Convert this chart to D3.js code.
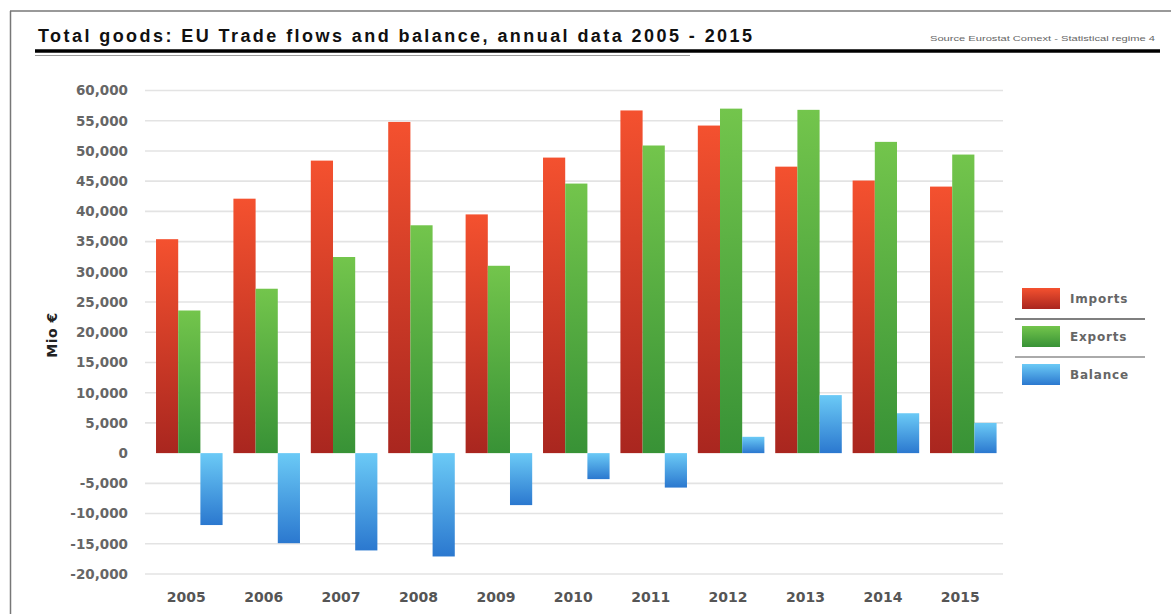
<!DOCTYPE html>
<html>
<head>
<meta charset="utf-8">
<script src="https://cdn.jsdelivr.net/npm/d3@7"></script>
<style>
  body { margin: 0; background: #fff; }
  #chart-container svg { display: block; }
</style>
</head>
<body>
<div id="chart-container"></div>
<script>
/**************************************************
 * Data (Mio €)
 **************************************************/

const years = ["2005", "2006", "2007", "2008", "2009", "2010", "2011", "2012", "2013", "2014", "2015"];
const imports = [35400, 42100, 48400, 54800, 39500, 48900, 56700, 54200, 47400, 45100, 44100];
const exports = [23600, 27200, 32450, 37700, 31000, 44600, 50900, 57000, 56800, 51500, 49400];
const balance = [-11900, -14900, -16100, -17100, -8600, -4300, -5700, 2700, 9600, 6600, 5000];
const seriesNames = ["Imports", "Exports", "Balance"];
const yTicks = [-20000, -15000, -10000, -5000, 0, 5000, 10000, 15000, 20000, 25000, 30000, 35000, 40000, 45000, 50000, 55000, 60000];

/**************************************************
 * Rendering
 **************************************************/

const width = 1171, height = 614;

const svg = d3.select("#chart-container")
  .append("svg")
  .attr("width", width)
  .attr("height", height);

// gradients for the bars (light on top, dark at bottom)
const gradColors = {
  Imports: ["#f4512f", "#a9261f"],
  Exports: ["#73c54c", "#389236"],
  Balance: ["#6bcaf6", "#2b78cf"]
};
const defs = svg.append("defs");
seriesNames.forEach(name => {
  const g = defs.append("linearGradient")
    .attr("id", "grad-" + name)
    .attr("x1", 0).attr("y1", 0).attr("x2", 0).attr("y2", 1);
  g.append("stop").attr("offset", "0%").attr("stop-color", gradColors[name][0]);
  g.append("stop").attr("offset", "100%").attr("stop-color", gradColors[name][1]);
});

// frame
svg.append("line")
  .attr("x1", 10).attr("x2", width).attr("y1", 11).attr("y2", 11)
  .attr("stroke", "#777").attr("stroke-width", 1.5);
svg.append("line")
  .attr("x1", 10.5).attr("x2", 10.5).attr("y1", 11).attr("y2", height)
  .attr("stroke", "#777").attr("stroke-width", 1.5);

// title + source
svg.append("text")
  .attr("x", 38)
  .attr("y", 42)
  .attr("font-family", "Liberation Sans, Arial, sans-serif")
  .attr("font-size", "18px")
  .attr("font-weight", "bold")
  .attr("fill", "#111")
  .attr("textLength", 714)
  .attr("lengthAdjust", "spacing")
  .text("Total goods: EU Trade flows and balance, annual data 2005 - 2015");

svg.append("text")
  .attr("x", 930)
  .attr("y", 41)
  .attr("font-family", "Liberation Sans, Arial, sans-serif")
  .attr("font-size", "8px")
  .attr("fill", "#666")
  .attr("textLength", 225)
  .attr("lengthAdjust", "spacingAndGlyphs")
  .text("Source Eurostat Comext - Statistical regime 4");

svg.append("line")
  .attr("x1", 35).attr("x2", 1160).attr("y1", 51).attr("y2", 51)
  .attr("stroke", "#000").attr("stroke-width", 3.5);
svg.append("line")
  .attr("x1", 35).attr("x2", 690).attr("y1", 55.5).attr("y2", 55.5)
  .attr("stroke", "#999").attr("stroke-width", 1);

// scales
const x0 = d3.scaleBand()
  .domain(years)
  .range([150.6, 1002])
  .paddingInner(0.14)
  .paddingOuter(0.07);

const x1 = d3.scaleBand()
  .domain(seriesNames)
  .range([0, x0.bandwidth()]);

const y = d3.scaleLinear()
  .domain([-20000, 60000])
  .range([574, 90.5]);

// grid lines
svg.append("g")
  .attr("class", "grid")
  .selectAll("line")
  .data(yTicks.filter(d => d !== 0))
  .enter()
  .append("line")
  .attr("x1", 145)
  .attr("x2", 1003)
  .attr("y1", d => y(d))
  .attr("y2", d => y(d))
  .attr("stroke", "#e3e3e3")
  .attr("stroke-width", 1.6);

// y axis (plain hyphen for negatives, as in the original)
const locale = d3.formatLocale({ decimal: ".", thousands: ",", grouping: [3], currency: ["", "€"], minus: "-" });
const yAxis = d3.axisLeft(y)
  .tickValues(yTicks)
  .tickFormat(locale.format(","))
  .tickSize(0)
  .tickPadding(0);

const yAxisG = svg.append("g")
  .attr("class", "y-axis")
  .attr("transform", "translate(128,0)")
  .call(yAxis);
yAxisG.select(".domain").remove();
yAxisG.selectAll("text")
  .attr("font-family", "DejaVu Sans, sans-serif")
  .attr("font-size", "13.5px")
  .attr("font-weight", "bold")
  .attr("fill", "#666");

// x axis
const xAxis = d3.axisBottom(x0).tickSize(0).tickPadding(0);
const xAxisG = svg.append("g")
  .attr("class", "x-axis")
  .attr("transform", "translate(-3,592)")
  .call(xAxis);
xAxisG.select(".domain").remove();
xAxisG.selectAll("text")
  .attr("font-family", "DejaVu Sans, sans-serif")
  .attr("font-size", "14px")
  .attr("font-weight", "bold")
  .attr("fill", "#555");

// axis title
svg.append("text")
  .attr("transform", "translate(57,335) rotate(-90)")
  .attr("text-anchor", "middle")
  .attr("font-family", "DejaVu Sans, sans-serif")
  .attr("font-size", "14px")
  .attr("font-weight", "bold")
  .attr("letter-spacing", "0.5px")
  .attr("fill", "#222")
  .text("Mio €");

// bars
const rows = years.map((yr, i) => ({
  year: yr,
  values: [
    { key: "Imports", value: imports[i] },
    { key: "Exports", value: exports[i] },
    { key: "Balance", value: balance[i] }
  ]
}));

const groups = svg.selectAll("g.year-group")
  .data(rows)
  .enter()
  .append("g")
  .attr("class", "year-group")
  .attr("transform", d => `translate(${x0(d.year)},0)`);

groups.selectAll("rect")
  .data(d => d.values)
  .enter()
  .append("rect")
  .attr("x", d => x1(d.key))
  .attr("y", d => y(Math.max(0, d.value)))
  .attr("width", x1.bandwidth())
  .attr("height", d => Math.abs(y(d.value) - y(0)))
  .attr("fill", d => `url(#grad-${d.key})`);

// legend
const legend = svg.append("g")
  .attr("class", "legend")
  .attr("transform", "translate(1022,288)");

seriesNames.forEach((name, i) => {
  const row = legend.append("g")
    .attr("transform", `translate(0, ${i * 38})`);
  row.append("rect")
    .attr("width", 38)
    .attr("height", 21)
    .attr("fill", `url(#grad-${name})`);
  row.append("text")
    .attr("x", 48)
    .attr("y", 15)
    .attr("font-family", "DejaVu Sans, sans-serif")
    .attr("font-size", "12px")
    .attr("font-weight", "bold")
    .attr("letter-spacing", "0.8px")
    .attr("fill", "#666")
    .text(name);
});

// legend separators
legend.append("line")
  .attr("x1", -7).attr("x2", 123).attr("y1", 31).attr("y2", 31)
  .attr("stroke", "#555").attr("stroke-width", 1.5);
legend.append("line")
  .attr("x1", -7).attr("x2", 123).attr("y1", 69).attr("y2", 69)
  .attr("stroke", "#aaa").attr("stroke-width", 2);
</script>
</body>
</html>
